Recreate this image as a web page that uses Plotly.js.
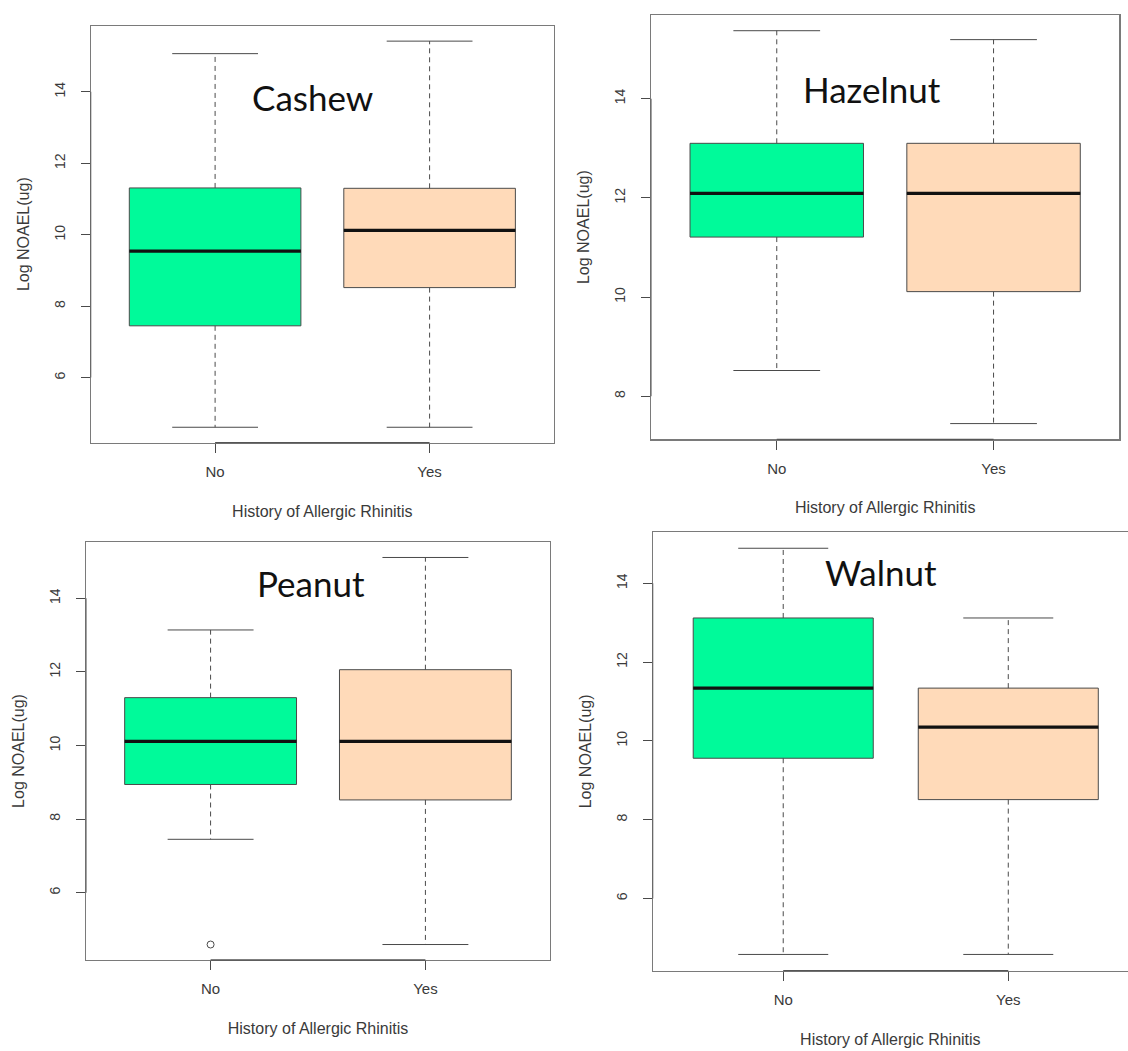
<!DOCTYPE html>
<html><head><meta charset="utf-8">
<script src="https://cdn.plot.ly/plotly-3.0.1.min.js"></script>
<style>html,body{margin:0;padding:0;background:#fff}#chart{width:1128px;height:1051px}</style>
</head><body><div id="chart"></div>
<script>
// ---------- data ----------
const groups = ['No', 'Yes'];
const groupPos = [1, 2];
const panelNames = ['Cashew', 'Hazelnut', 'Peanut', 'Walnut'];
const yAxisTitle = 'Log NOAEL(ug)';
const xAxisTitle = 'History of Allergic Rhinitis';

const cashewLower  = [4.61, 4.61];
const cashewQ1     = [7.45, 8.52];
const cashewMedian = [9.54, 10.12];
const cashewQ3     = [11.31, 11.30];
const cashewUpper  = [15.07, 15.42];
const cashewOutliers = [[], []];

const hazelnutLower  = [8.52, 7.45];
const hazelnutQ1     = [11.21, 10.11];
const hazelnutMedian = [12.09, 12.09];
const hazelnutQ3     = [13.10, 13.10];
const hazelnutUpper  = [15.37, 15.19];
const hazelnutOutliers = [[], []];

const peanutLower  = [7.45, 4.59];
const peanutQ1     = [8.94, 8.52];
const peanutMedian = [10.11, 10.11];
const peanutQ3     = [11.30, 12.06];
const peanutUpper  = [13.14, 15.11];
const peanutOutliers = [[4.59], []];

const walnutLower  = [4.58, 4.58];
const walnutQ1     = [9.56, 8.51];
const walnutMedian = [11.34, 10.35];
const walnutQ3     = [13.12, 11.34];
const walnutUpper  = [14.89, 13.12];
const walnutOutliers = [[], []];

const yTicksCashew   = [6, 8, 10, 12, 14];
const yTicksHazelnut = [8, 10, 12, 14];
const yTicksPeanut   = [6, 8, 10, 12, 14];
const yTicksWalnut   = [6, 8, 10, 12, 14];

// ---------- styling / geometry ----------
const W = 1128, H = 1051;
const fillColors = ['#00FA9A', '#FFDAB9'];
const lineCol = '#4a4a4a';
const frameCol = '#7a7a7a';
const textCol = '#3a3a3a';
const boxWidth = 0.8, stapleHalf = 0.2;
const font = 'Liberation Sans, Arial, sans-serif';

const panels = [
  {name: panelNames[0], lower: cashewLower, q1: cashewQ1, med: cashewMedian, q3: cashewQ3, upper: cashewUpper, out: cashewOutliers, ticks: yTicksCashew,
   px: [90.7, 554], py: [25.7, 442.7], xr: [0.42, 2.58], label: [312, 97], mirrorY: true},
  {name: panelNames[1], lower: hazelnutLower, q1: hazelnutQ1, med: hazelnutMedian, q3: hazelnutQ3, upper: hazelnutUpper, out: hazelnutOutliers, ticks: yTicksHazelnut,
   px: [651, 1119.3], py: [15, 439.3], xr: [0.42, 2.58], label: [872, 89], mirrorY: true},
  {name: panelNames[2], lower: peanutLower, q1: peanutQ1, med: peanutMedian, q3: peanutQ3, upper: peanutUpper, out: peanutOutliers, ticks: yTicksPeanut,
   px: [86, 550], py: [542, 960], xr: [0.42, 2.58], label: [311, 583], mirrorY: true},
  {name: panelNames[3], lower: walnutLower, q1: walnutQ1, med: walnutMedian, q3: walnutQ3, upper: walnutUpper, out: walnutOutliers, ticks: yTicksWalnut,
   px: [652.7, 1128], py: [532, 970.7], xr: [0.42, 2.532], label: [881, 572], mirrorY: false}
];

const traces = [];
const layout = {
  width: W, height: H, margin: {l: 0, r: 0, t: 0, b: 0},
  paper_bgcolor: '#fff', plot_bgcolor: '#fff', showlegend: false,
  boxmode: 'overlay', annotations: [], shapes: []
};

panels.forEach((p, i) => {
  const s = i === 0 ? '' : String(i + 1);
  const xa = 'x' + s, ya = 'y' + s;
  // R-style range: data range extended by 4%
  const allVals = [...p.lower, ...p.upper, ...p.out.flat()];
  const mn = Math.min(...allVals), mx = Math.max(...allVals);
  const pad = 0.04 * (mx - mn);

  layout['xaxis' + s] = {
    domain: [p.px[0] / W, p.px[1] / W], anchor: ya,
    range: p.xr, tickvals: groupPos, ticktext: groups,
    ticks: 'outside', ticklen: 9, tickwidth: 1, tickcolor: lineCol,
    showline: true, linecolor: frameCol, linewidth: 1.2, mirror: true,
    showgrid: false, zeroline: false, fixedrange: true,
    ticklabelstandoff: 6,
    tickfont: {family: font, size: 15, color: textCol},
    title: {text: xAxisTitle, standoff: 26, font: {family: font, size: 16, color: textCol}}
  };
  layout['yaxis' + s] = {
    domain: [1 - p.py[1] / H, 1 - p.py[0] / H], anchor: xa,
    range: [mn - pad, mx + pad], tickvals: p.ticks, tickangle: -90,
    ticks: 'outside', ticklen: 9, tickwidth: 1, tickcolor: lineCol,
    showline: true, linecolor: frameCol, linewidth: 1.2, mirror: p.mirrorY,
    showgrid: false, zeroline: false, fixedrange: true,
    ticklabelstandoff: 10,
    tickfont: {family: font, size: 14, color: textCol},
    title: {text: yAxisTitle, standoff: 18, font: {family: font, size: 16, color: textCol}}
  };

  groups.forEach((g, k) => {
    traces.push({
      type: 'box', xaxis: xa, yaxis: ya, name: g,
      x: [groupPos[k]], q1: [p.q1[k]], median: [p.med[k]], q3: [p.q3[k]],
      lowerfence: [p.q1[k]], upperfence: [p.q3[k]],
      width: boxWidth, whiskerwidth: 0, boxpoints: false,
      fillcolor: fillColors[k], line: {color: lineCol, width: 1},
      hoverinfo: 'skip'
    });
  });

  const wx = [], wy = [], cx = [], cy = [], mxs = [], mys = [];
  groups.forEach((g, k) => {
    const c = groupPos[k];
    wx.push(c, c, null, c, c, null);
    wy.push(p.q3[k], p.upper[k], null, p.q1[k], p.lower[k], null);
    cx.push(c - stapleHalf, c + stapleHalf, null, c - stapleHalf, c + stapleHalf, null);
    cy.push(p.upper[k], p.upper[k], null, p.lower[k], p.lower[k], null);
    mxs.push(c - boxWidth / 2, c + boxWidth / 2, null);
    mys.push(p.med[k], p.med[k], null);
  });
  traces.push({type: 'scatter', mode: 'lines', xaxis: xa, yaxis: ya, x: wx, y: wy,
    line: {color: lineCol, width: 1, dash: '5px,4px'}, hoverinfo: 'skip'});
  traces.push({type: 'scatter', mode: 'lines', xaxis: xa, yaxis: ya, x: cx, y: cy,
    line: {color: lineCol, width: 1}, hoverinfo: 'skip'});
  traces.push({type: 'scatter', mode: 'lines', xaxis: xa, yaxis: ya, x: mxs, y: mys,
    line: {color: '#111', width: 3.2}, hoverinfo: 'skip'});

  const ox = [], oy = [];
  groups.forEach((g, k) => p.out[k].forEach(v => { ox.push(groupPos[k]); oy.push(v); }));
  if (ox.length) {
    traces.push({type: 'scatter', mode: 'markers', xaxis: xa, yaxis: ya, x: ox, y: oy,
      marker: {symbol: 'circle-open', size: 7, color: lineCol, line: {width: 1}}, hoverinfo: 'skip'});
  }

  // R draws the axis line from first to last tick a little darker
  layout.shapes.push({type: 'line', xref: xa, yref: ya + ' domain',
    x0: groupPos[0], x1: groupPos[groupPos.length - 1], y0: 0, y1: 0,
    line: {color: '#555', width: 1.3}});
  layout.shapes.push({type: 'line', xref: xa + ' domain', yref: ya,
    x0: 0, x1: 0, y0: p.ticks[0], y1: p.ticks[p.ticks.length - 1],
    line: {color: '#666', width: 1.2}});

  layout.annotations.push({
    text: p.name, xref: 'paper', yref: 'paper',
    x: p.label[0] / W, y: 1 - p.label[1] / H, xanchor: 'center', yanchor: 'middle',
    showarrow: false, font: {family: 'Lato, Noto Sans, sans-serif', size: 35, color: '#111'}
  });
});

Plotly.newPlot('chart', traces, layout, {displayModeBar: false, staticPlot: true});
</script>
</body></html>
